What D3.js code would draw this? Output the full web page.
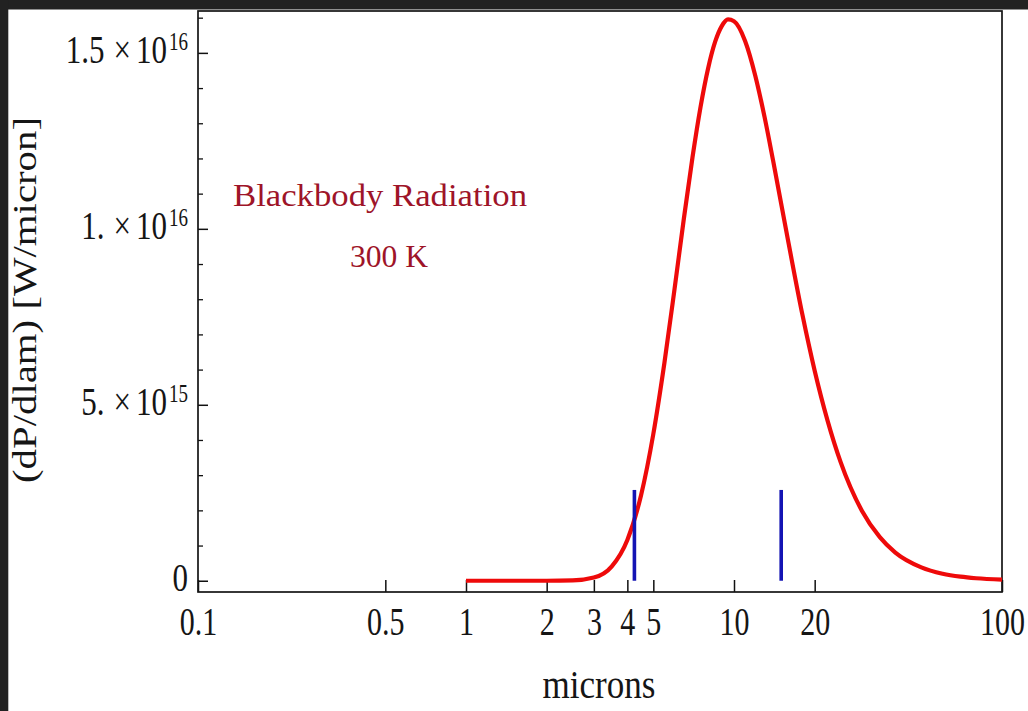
<!DOCTYPE html>
<html><head><meta charset="utf-8">
<script src="https://cdn.jsdelivr.net/npm/d3@7"></script>
<style>html,body{margin:0;padding:0;background:#fff;overflow:hidden}</style>
</head><body>
<svg id="c" width="1028" height="711"></svg>
<script>
// Blackbody spectrum at 300 K (power in units of 1e15 W/micron)
const wavelengths = [1, 1.5, 2, 2.5, 3, 3.5, 4, 4.5, 5, 5.5, 6, 6.5, 7, 7.5, 8, 8.5, 9, 9.5, 10, 11, 12, 13, 14, 16, 18, 20, 25, 30, 35, 40, 50, 60, 70, 80, 100];
const power = [0, 0, 0.0002, 0.009, 0.09, 0.41, 1.16, 2.43, 4.17, 6.19, 8.29, 10.29, 12.03, 13.46, 14.55, 15.31, 15.76, 15.95, 15.90, 15.34, 14.36, 13.18, 11.93, 9.57, 7.56, 5.97, 3.37, 1.99, 1.24, 0.80, 0.38, 0.20, 0.115, 0.071, 0.031];
// vertical blue markers (microns) and their height (1e15 W/micron)
const markerWavelengths = [4.25, 15];
const markerHeights = [2.58, 2.58];
// ticks
const xTickValues = [0.1, 0.5, 1, 2, 3, 4, 5, 10, 20, 100];
const xTickLabels = ["0.1", "0.5", "1", "2", "3", "4", "5", "10", "20", "100"];
const yMajorTicks = [0, 5, 10, 15];
const yTickMantissa = ["0", "5.", "1.", "1.5"];
const yTickExponent = ["", "15", "16", "16"];
const yMinorTicks = [1, 2, 3, 4, 6, 7, 8, 9, 11, 12, 13, 14, 16];
const titleLines = ["Blackbody Radiation", "300 K"];
const xLabel = "microns";
const yLabel = "(dP/dlam) [W/micron]";

const FONT = "'Liberation Serif', 'Times New Roman', serif";
const svg = d3.select("#c");
svg.append("rect").attr("width", 1028).attr("height", 711).attr("fill", "#fff");
svg.append("rect").attr("x", 0).attr("y", 0).attr("width", 1028).attr("height", 9.5).attr("fill", "#222");
svg.append("rect").attr("x", 0).attr("y", 0).attr("width", 8.3).attr("height", 711).attr("fill", "#222");

const L = 198, R = 1002, T = 11, B = 592;
const x = d3.scaleLog().domain([0.1, 100]).range([L, R]);
const y = d3.scaleLinear().domain([-0.32, 16.19]).range([B, T]);

// x axis (ticks inside)
const gx = svg.append("g").attr("transform", `translate(0,${B})`)
  .call(d3.axisBottom(x).tickValues(xTickValues).tickFormat((d, i) => xTickLabels[i]).tickSize(-12).tickSizeOuter(0));
gx.select(".domain").remove();
gx.selectAll(".tick line").attr("stroke", "#111").attr("stroke-width", 1.5);
gx.selectAll(".tick text").attr("y", 0).attr("dy", null)
  .attr("transform", "translate(0,43) scale(1,1.3)")
  .attr("font-family", FONT).attr("font-size", 30).attr("fill", "#151515");

// y axis major and minor ticks (inside)
const gy = svg.append("g").attr("transform", `translate(${L},0)`)
  .call(d3.axisLeft(y).tickValues(yMajorTicks).tickFormat("").tickSize(-10).tickSizeOuter(0));
gy.select(".domain").remove();
gy.selectAll(".tick line").attr("stroke", "#111").attr("stroke-width", 1.5);
const gy2 = svg.append("g").attr("transform", `translate(${L},0)`)
  .call(d3.axisLeft(y).tickValues(yMinorTicks).tickFormat("").tickSize(-5).tickSizeOuter(0));
gy2.select(".domain").remove();
gy2.selectAll(".tick line").attr("stroke", "#111").attr("stroke-width", 1.3);

// y tick labels
yMajorTicks.forEach((v, i) => {
  const t = svg.append("text")
    .attr("transform", `translate(188,${y(v) + 10}) scale(1,1.3)`)
    .attr("text-anchor", "end").attr("font-family", FONT).attr("font-size", 31).attr("fill", "#151515");
  t.append("tspan").text(yTickMantissa[i]);
  if (yTickExponent[i]) {
    t.append("tspan").attr("dx", 9).text("\u00d7");
    t.append("tspan").attr("dx", 5).text("10");
    t.append("tspan").attr("font-size", 19).attr("dy", -10).attr("dx", 2).text(yTickExponent[i]);
  }
});

// frame
svg.append("rect").attr("x", L).attr("y", T).attr("width", R - L).attr("height", B - T)
  .attr("fill", "none").attr("stroke", "#151515").attr("stroke-width", 1.7);

// curve
const line = d3.line().x((d, i) => x(wavelengths[i])).y(d => y(d)).curve(d3.curveMonotoneX);
svg.append("path").datum(power).attr("d", line)
  .attr("fill", "none").attr("stroke", "#ee0a0a").attr("stroke-width", 4.2);

// markers
svg.selectAll(".marker").data(markerWavelengths).enter().append("line")
  .attr("x1", d => x(d)).attr("x2", d => x(d))
  .attr("y1", y(0)).attr("y2", (d, i) => y(markerHeights[i]))
  .attr("stroke", "#1414b4").attr("stroke-width", 3.6);

// annotation
svg.append("text").attr("transform", "translate(380,206) scale(1,1.3)")
  .attr("text-anchor", "middle").attr("font-family", FONT).attr("font-size", 25)
  .attr("textLength", 294).attr("lengthAdjust", "spacingAndGlyphs")
  .attr("fill", "#9e1428").text(titleLines[0]);
svg.append("text").attr("transform", "translate(389,267) scale(1,1.3)")
  .attr("text-anchor", "middle").attr("font-family", FONT).attr("font-size", 25)
  .attr("textLength", 78).attr("lengthAdjust", "spacingAndGlyphs")
  .attr("fill", "#9e1428").text(titleLines[1]);

// axis labels
svg.append("text").attr("transform", "translate(599,698) scale(1,1.3)")
  .attr("text-anchor", "middle").attr("font-family", FONT).attr("font-size", 31)
  .attr("textLength", 113).attr("lengthAdjust", "spacingAndGlyphs")
  .attr("fill", "#151515").text(xLabel);
svg.append("text").attr("transform", "translate(36,300) rotate(-90)")
  .attr("text-anchor", "middle").attr("font-family", FONT).attr("font-size", 33)
  .attr("textLength", 366).attr("lengthAdjust", "spacingAndGlyphs")
  .attr("fill", "#151515").text(yLabel);
</script>
</body></html>
